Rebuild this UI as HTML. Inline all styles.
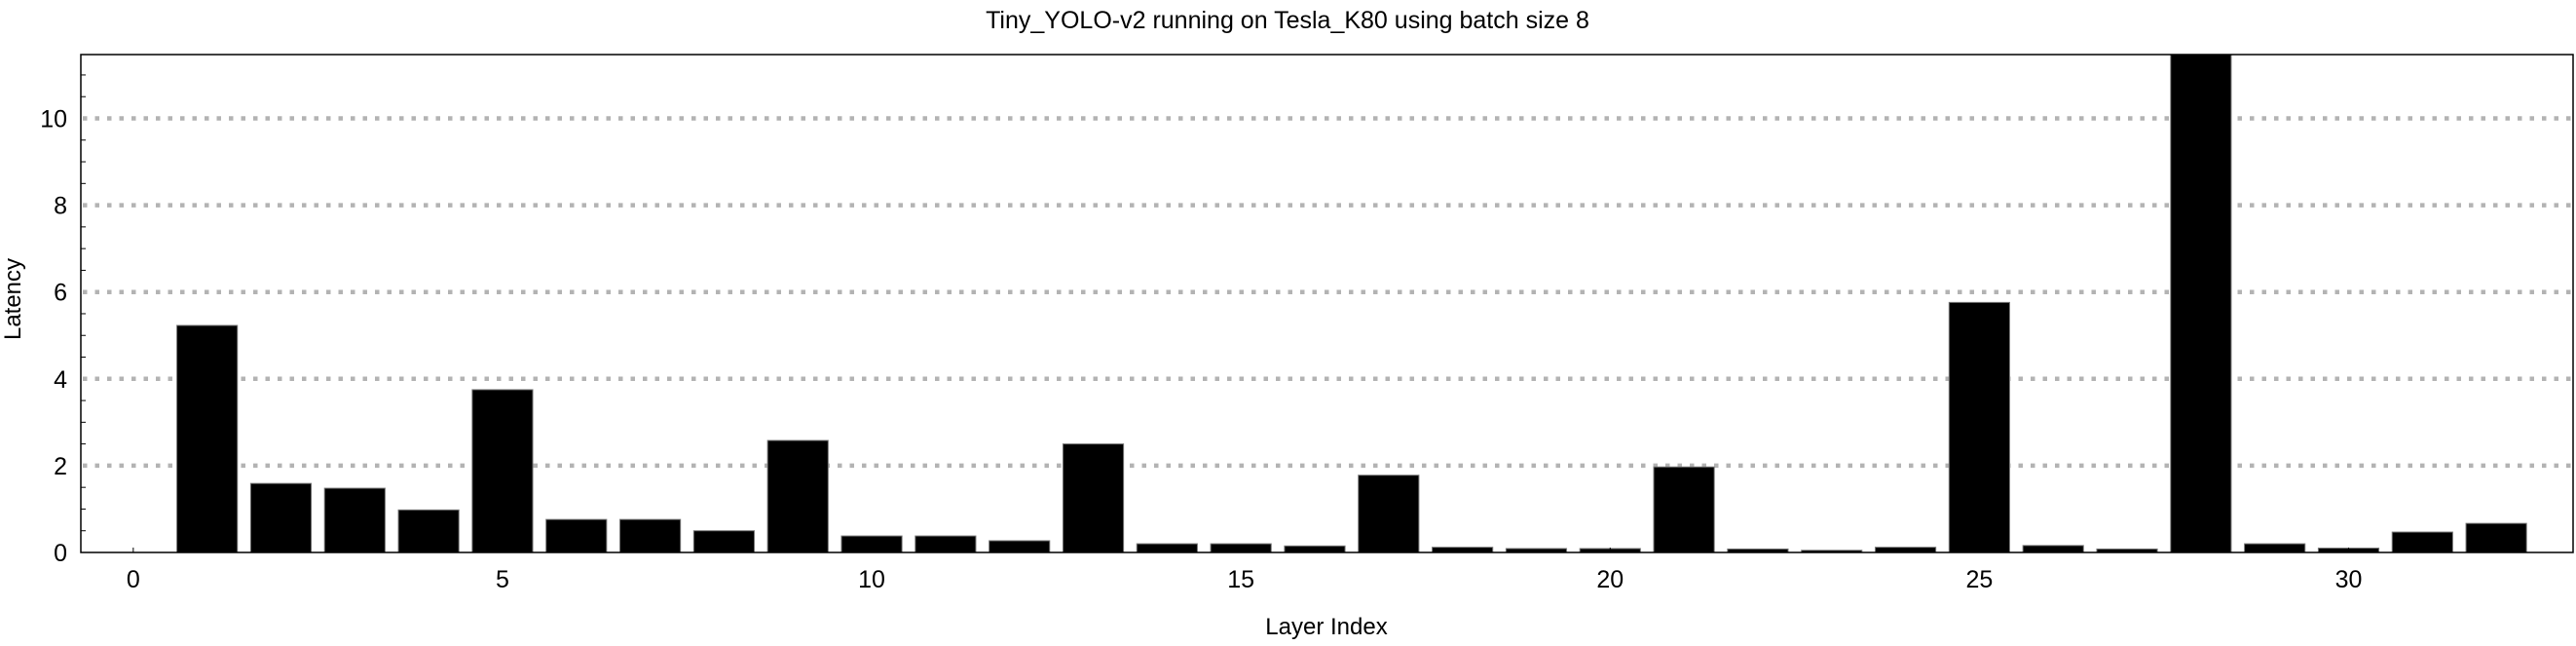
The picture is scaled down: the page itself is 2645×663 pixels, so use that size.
<!DOCTYPE html>
<html><head><meta charset="utf-8"><style>
html,body{margin:0;padding:0;background:#fff;}
svg text{font-family:"Liberation Sans",sans-serif;fill:#000;}
</style></head><body>
<svg id="chart" width="2645" height="658" xmlns="http://www.w3.org/2000/svg">
<text x="1322" y="29" font-size="25" text-anchor="middle">Tiny_YOLO-v2 running on Tesla_K80 using batch size 8</text>
<g id="grid"></g>
<g id="bars"></g>
<rect x="83" y="56" width="2559" height="511" fill="none" stroke="#000" stroke-width="1.5"/>
<g id="axes"></g>
<text x="1362" y="651" font-size="24" text-anchor="middle">Layer Index</text>
<text transform="translate(21,307) rotate(-90)" font-size="24" text-anchor="middle">Latency</text>
</svg>
<script>
const layers = [1,2,3,4,5,6,7,8,9,10,11,12,13,14,15,16,17,18,19,20,21,22,23,24,25,26,27,28,29,30,31,32];
const latency = [5.23,1.59,1.48,0.98,3.75,0.76,0.76,0.5,2.58,0.38,0.38,0.27,2.5,0.2,0.2,0.15,1.78,0.12,0.09,0.09,1.97,0.08,0.05,0.12,5.76,0.16,0.08,12,0.2,0.1,0.47,0.67];
const yTicks = [0,2,4,6,8,10];
const xTicks = [0,5,10,15,20,25,30];
const NS='http://www.w3.org/2000/svg';
const L=83,R=2642,T=56,B=567,XMIN=-0.71,XMAX=33.04,YMAX=11.47;
const xs=v=>L+(v-XMIN)/(XMAX-XMIN)*(R-L);
const ys=v=>B-v/YMAX*(B-T);
function mk(tag,attrs,parent){const e=document.createElementNS(NS,tag);for(const k in attrs)e.setAttribute(k,attrs[k]);parent.appendChild(e);return e;}
const grid=document.getElementById('grid'),bars=document.getElementById('bars'),axes=document.getElementById('axes');
yTicks.forEach(t=>{if(t===0)return;
 const l=mk('line',{x1:L+2,x2:R,y1:ys(t),y2:ys(t),stroke:'#b3b3b3','stroke-width':4.5,'stroke-dasharray':'4.5 8'},grid);
 
 
});
const bw=(xs(1)-xs(0))*0.82;
layers.forEach((x,i)=>{
 const v=Math.min(latency[i],YMAX);
 const r=mk('rect',{x:xs(x)-bw/2,y:ys(v),width:bw,height:B-ys(v),fill:'#000',stroke:'#777','stroke-width':1},bars);
 
 
});
for(let t=0.5;t<YMAX;t+=0.5){
 const len=(Math.abs(t-Math.round(t/2)*2)<1e-6)?0:5;
 if(len) { const m=mk('line',{x1:L,x2:L+len,y1:ys(t),y2:ys(t),stroke:'#000','stroke-width':1},axes);
 
  }
}
yTicks.forEach(t=>{
 const tx=mk('text',{x:69,y:ys(t)+9,'font-size':25,'text-anchor':'end'},axes);
 tx.textContent=t;
 
 
});
xTicks.forEach(t=>{
 const m=mk('line',{x1:xs(t),x2:xs(t),y1:B,y2:B-5,stroke:'#000','stroke-width':1},axes);
 
 
 const tx=mk('text',{x:xs(t),y:603,'font-size':25,'text-anchor':'middle'},axes);
 tx.textContent=t;
 
 
});
</script>
</body></html>
